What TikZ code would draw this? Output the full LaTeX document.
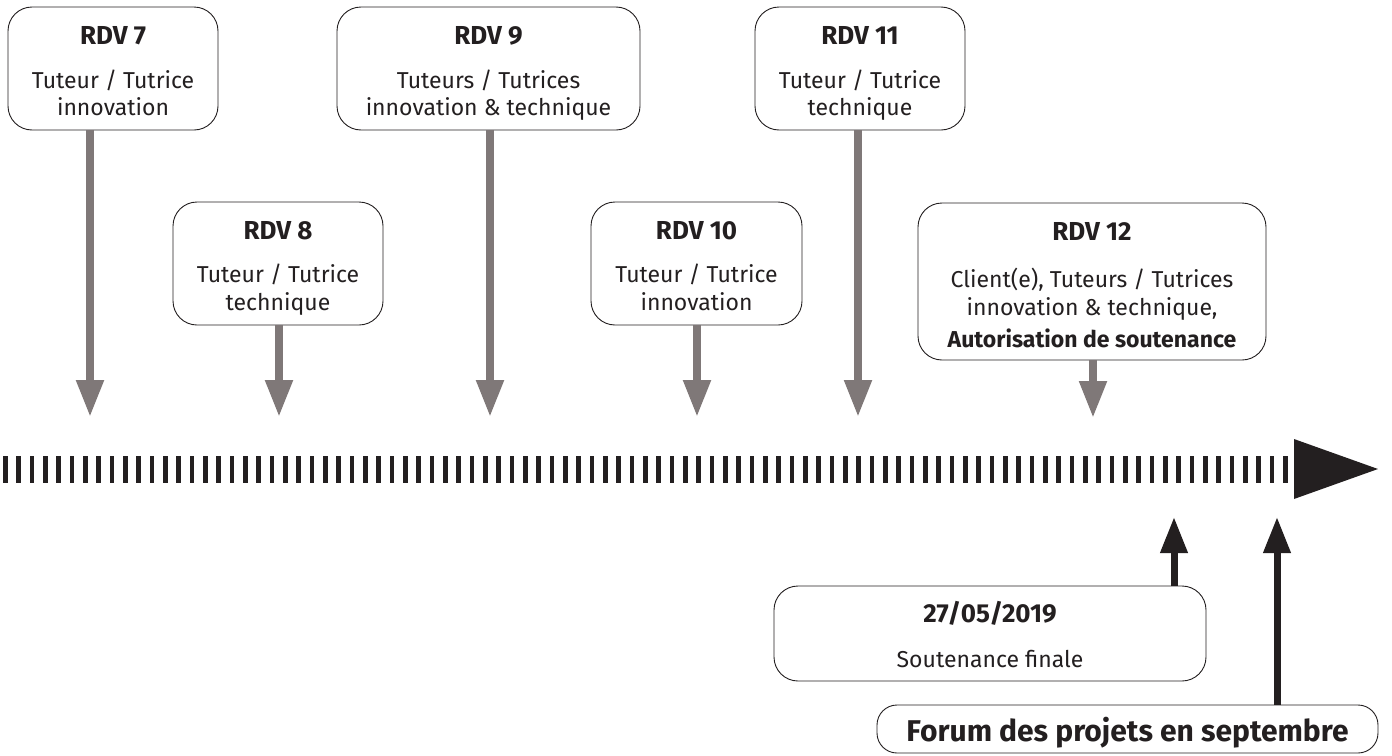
\documentclass[tikz,border=0pt]{standalone}
\usepackage{fontspec}
\setmainfont{Fira Sans}
\usetikzlibrary{arrows.meta}
\definecolor{ink}{HTML}{231F20}
\definecolor{arrowgray}{HTML}{7F7878}
\begin{document}
\begin{tikzpicture}[x=1pt,y=-1pt,
  box/.style={draw=ink, line width=0.9pt, rounded corners=24pt, fill=white, inner sep=0pt},
  ttl/.style={anchor=base, font=\fontsize{26}{30}\selectfont\bfseries, text=ink, inner sep=0pt},
  txt/.style={anchor=base, font=\fontsize{23}{27}\selectfont, text=ink, inner sep=0pt},
  garrow/.style={draw=arrowgray, line width=8pt, -{Triangle[length=37pt,width=26pt]}},
  barrow/.style={draw=ink, line width=7pt, -{Triangle[length=36pt,width=26pt]}},
  tick/.style={fill=ink, draw=none},
]
\useasboundingbox (0,0) rectangle (1392,755);

% boxes
\node[box, minimum width=210pt, minimum height=123pt] (r7) at (113,68.5) {};
\node[box, minimum width=210pt, minimum height=123pt] (r8) at (278,263.5) {};
\node[box, minimum width=303pt, minimum height=123pt] (r9) at (488.5,68.5) {};
\node[box, minimum width=211pt, minimum height=123pt] (r10) at (696.5,263.5) {};
\node[box, minimum width=210pt, minimum height=123pt] (r11) at (860,68.5) {};
\node[box, minimum width=348pt, minimum height=157pt] (r12) at (1092,281.5) {};
\node[box, minimum width=432pt, minimum height=95pt] (d27) at (990,633.5) {};
\node[box, rounded corners=20pt, minimum width=501pt, minimum height=48pt] (forum) at (1127.5,729) {};

% texts
\node[ttl] (r7t) at (113,44) {RDV 7};
\node[txt] (r7a) at (113,88) {Tuteur / Tutrice};
\node[txt] (r7b) at (113,115) {innovation};

\node[ttl] (r8t) at (278,239) {RDV 8};
\node[txt] (r8a) at (278,282) {Tuteur / Tutrice};
\node[txt] (r8b) at (278,310) {technique};

\node[ttl] (r9t) at (488.5,44) {RDV 9};
\node[txt] (r9a) at (488.5,88) {Tuteurs / Tutrices};
\node[txt] (r9b) at (488.5,115) {innovation \& technique};

\node[ttl] (r10t) at (696.5,239) {RDV 10};
\node[txt] (r10a) at (696.5,282) {Tuteur / Tutrice};
\node[txt] (r10b) at (696.5,310) {innovation};

\node[ttl] (r11t) at (860,44) {RDV 11};
\node[txt] (r11a) at (860,88) {Tuteur / Tutrice};
\node[txt] (r11b) at (860,115) {technique};

\node[ttl] (r12t) at (1092,240) {RDV 12};
\node[txt] (r12a) at (1092,287) {Client(e), Tuteurs / Tutrices};
\node[txt] (r12b) at (1092,315) {innovation \& technique,};
\node[txt, font=\fontsize{23}{27}\selectfont\bfseries] (r12c) at (1092,347) {Autorisation de soutenance};

\node[ttl] (d27t) at (990,622) {27/05/2019};
\node[txt] (d27a) at (990,667) {Soutenance finale};

\node[ttl, font=\fontsize{30}{34}\selectfont\bfseries] (forumt) at (1127.5,741) {Forum des projets en septembre};

% arrow tips
\coordinate (t7) at (90,417);
\coordinate (t8) at (279,417);
\coordinate (t9) at (490,417);
\coordinate (t10) at (697,417);
\coordinate (t11) at (858,417);
\coordinate (t12) at (1093,418);
\coordinate (u1) at (1174,517);
\coordinate (u2) at (1277,517);

\draw[garrow] (t7 |- r7.south) -- (t7);
\draw[garrow] (t8 |- r8.south) -- (t8);
\draw[garrow] (t9 |- r9.south) -- (t9);
\draw[garrow] (t10 |- r10.south) -- (t10);
\draw[garrow] (t11 |- r11.south) -- (t11);
\draw[garrow] (t12 |- r12.south) -- (t12);

\draw[barrow] (u1 |- d27.north) -- (u1);
\draw[barrow] (u2 |- forum.north) -- (u2);

% timeline
\foreach \i in {0,...,96} {
  \fill[tick] ({3+\i*13.333},456) rectangle ++(4.8,27);
}
\fill[ink] (1294,439) -- (1378,469) -- (1294,499) -- cycle;
\end{tikzpicture}
\end{document}
